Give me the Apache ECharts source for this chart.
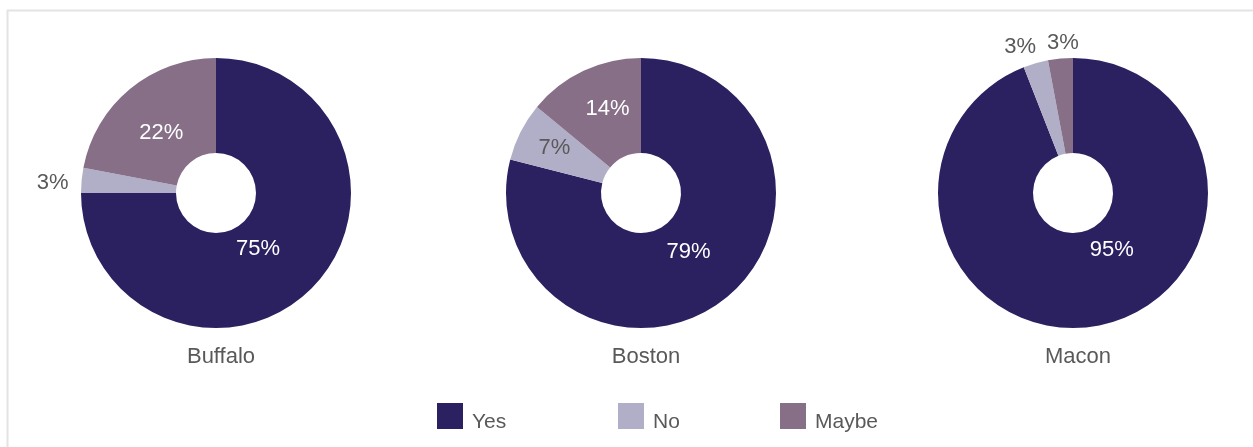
<!DOCTYPE html>
<html>
<head>
<meta charset="utf-8">
<script src="https://cdn.jsdelivr.net/npm/echarts@6/dist/echarts.min.js"></script>
<style>
  html, body { margin: 0; padding: 0; background: #fff; }
  #chart { width: 1253px; height: 447px; }
</style>
</head>
<body>
<div id="chart"></div>
<script>
// Survey answers per city (percent)
const cities = ['Buffalo', 'Boston', 'Macon'];
const answers = ['Yes', 'No', 'Maybe'];
const yesValues = [75, 79, 95];
const noValues = [3, 7, 3];
const maybeValues = [22, 14, 3];

const colors = { Yes: '#2b2160', No: '#b1aec8', Maybe: '#866f87' };
const FONT = '"Liberation Sans Narrow", "Liberation Sans", Arial, sans-serif';
const centersX = [216, 641, 1073];

// nudges for the percentage labels, per city then per answer
const labelNudges = [
  [[-22, -8], [0, 3], [3, 10]],
  [[-8, -13], [-6, -4], [5, -2]],
  [[22, -32], [9, -11], [26, -10]]
];

function sliceLabel(value, name, nudge) {
  // big slices get an inside label; thin ones sit just outside the ring
  if (value < 5) {
    return { position: 'outside', color: '#595959', offset: nudge };
  }
  return { position: 'inside', color: name === 'No' ? '#595959' : '#ffffff', offset: nudge };
}

const series = cities.map((city, i) => {
  const vals = [yesValues[i], noValues[i], maybeValues[i]];
  return {
    type: 'pie',
    name: city,
    center: [centersX[i], 193],
    radius: [40, 135],
    startAngle: 90,
    clockwise: true,
    avoidLabelOverlap: false,
    labelLayout: { hideOverlap: false },
    silent: true,
    label: {
      formatter: '{c}%',
      fontFamily: FONT,
      fontSize: 22
    },
    labelLine: { show: false, length: 6, length2: 2 },
    data: answers.map((a, k) => ({
      name: a,
      value: vals[k],
      itemStyle: { color: colors[a] },
      label: sliceLabel(vals[k], a, labelNudges[i][k])
    }))
  };
});

const legendLefts = [437, 618, 780];
const legends = answers.map((a, k) => ({
  data: [a],
  left: legendLefts[k],
  top: 403,
  padding: 0,
  itemWidth: 26,
  itemHeight: 26,
  itemGap: 0,
  icon: 'rect',
  selectedMode: false,
  formatter: name => '{t|' + name + '}',
  textStyle: {
    fontFamily: FONT, fontSize: 21, color: '#595959',
    rich: { t: { fontFamily: FONT, fontSize: 21, color: '#595959', padding: [12, 0, 0, 4] } }
  }
}));

const titles = cities.map((c, i) => ({
  text: c,
  left: centersX[i],
  top: 341,
  textAlign: 'center',
  textStyle: { fontFamily: FONT, fontSize: 22, fontWeight: 'normal', color: '#595959' }
}));

const chart = echarts.init(document.getElementById('chart'), null, { renderer: 'canvas' });
chart.setOption({
  animation: false,
  backgroundColor: '#ffffff',
  color: answers.map(a => colors[a]),
  title: titles,
  legend: legends,
  graphic: [
    { type: 'line', shape: { x1: 7, y1: 10.5, x2: 1253, y2: 10.5 }, style: { stroke: '#e3e3e3', lineWidth: 2 }, silent: true },
    { type: 'line', shape: { x1: 7.5, y1: 10, x2: 7.5, y2: 447 }, style: { stroke: '#e3e3e3', lineWidth: 2 }, silent: true }
  ],
  series: series
});
</script>
</body>
</html>
